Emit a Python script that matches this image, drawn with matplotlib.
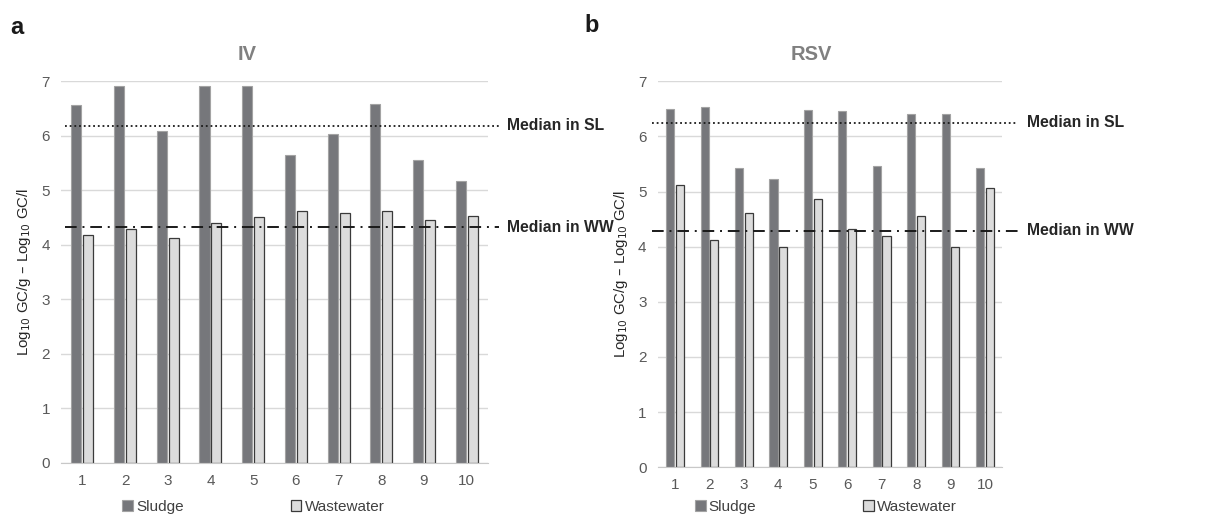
import numpy as np
import matplotlib.pyplot as plt

plt.rcParams['font.family'] = ['Liberation Sans', 'DejaVu Sans']

samples = [str(i) for i in range(1, 11)]

# IV (panel a)
iv_sludge = [6.56, 6.92, 6.08, 6.92, 6.92, 5.64, 6.04, 6.58, 5.55, 5.17]
iv_ww = [4.18, 4.28, 4.12, 4.39, 4.51, 4.61, 4.59, 4.62, 4.45, 4.52]
iv_median_sl = 6.18
iv_median_ww = 4.32

# RSV (panel b)
rsv_sludge = [6.49, 6.53, 5.43, 5.23, 6.48, 6.46, 5.46, 6.41, 6.40, 5.42]
rsv_ww = [5.12, 4.13, 4.61, 3.99, 4.87, 4.32, 4.19, 4.55, 3.99, 5.06]
rsv_median_sl = 6.25
rsv_median_ww = 4.29

fig = plt.figure(figsize=(12.18, 5.18), dpi=100)
ax_a = fig.add_axes([0.0501, 0.1068, 0.3506, 0.7363])
ax_b = fig.add_axes([0.5400, 0.0979, 0.2829, 0.7452])


def draw_panel(ax, sludge, ww, med_sl, med_ww, title, title_x, line_x, text_x, leg_x):
    x = np.arange(len(samples))
    w = 0.235
    b1 = ax.bar(x - 0.14, sludge, w, color='#76777b', edgecolor='#a3a3a3',
                linewidth=0.8, label='Sludge', zorder=2)
    b2 = ax.bar(x + 0.14, ww, w, color='#dcdcdc', edgecolor='#3a3a3a',
                linewidth=0.9, label='Wastewater', zorder=2)
    ax.set_xlim(-0.5, len(samples) - 0.5)
    ax.set_ylim(0, 7)
    ax.set_yticks(range(0, 8))
    ax.set_xticks(x)
    ax.set_xticklabels(samples)
    ax.yaxis.grid(True, color='#d9d9d9', linewidth=1.0, zorder=0)
    ax.set_axisbelow(True)
    for s in ['top', 'right', 'left']:
        ax.spines[s].set_visible(False)
    ax.spines['bottom'].set_color('#c8c8c8')
    ax.tick_params(axis='both', length=0, labelsize=11, colors='#595959', pad=8)
    ax.set_ylabel(r'Log$_{10}$ GC/g – Log$_{10}$ GC/l', fontsize=10.8, color='#262626',
                  labelpad=6)

    tr = ax.get_yaxis_transform()
    ax.plot(line_x, [med_sl, med_sl], transform=tr, color='#1a1a1a',
            linestyle=(0, (1, 1.6)), linewidth=1.3, clip_on=False, zorder=3)
    ax.plot(line_x, [med_ww, med_ww], transform=tr, color='#1a1a1a',
            linestyle=(0, (6, 3, 1, 3)), linewidth=1.4, clip_on=False, zorder=3)
    ax.text(text_x, med_sl, 'Median in SL', transform=tr, fontsize=11.3,
            fontweight='bold', color='#262626', va='center', ha='left')
    ax.text(text_x, med_ww, 'Median in WW', transform=tr, fontsize=11.3,
            fontweight='bold', color='#262626', va='center', ha='left')

    fig.text(title_x, 0.894, title, fontsize=14.5, fontweight='bold',
             color='#808080', ha='center', va='center')

    ax.legend(handles=[b1, b2], loc='center', bbox_to_anchor=(leg_x, 0.021),
              bbox_transform=fig.transFigure, ncol=2, frameon=False,
              handlelength=0.7, handleheight=0.7, handletextpad=0.2,
              columnspacing=7, fontsize=11, labelcolor='#404040')


draw_panel(ax_a, iv_sludge, iv_ww, iv_median_sl, iv_median_ww, 'IV', 0.2028,
           [0.009, 1.026], 1.045, 0.208)
draw_panel(ax_b, rsv_sludge, rsv_ww, rsv_median_sl, rsv_median_ww, 'RSV', 0.6664,
           [-0.017, 1.046], 1.072, 0.678)

fig.text(0.0139, 0.947, 'a', fontsize=17, fontweight='bold', color='#1a1a1a',
         ha='center', va='center')
fig.text(0.4860, 0.951, 'b', fontsize=17, fontweight='bold', color='#1a1a1a',
         ha='center', va='center')

fig.savefig('out.png', dpi=100)
